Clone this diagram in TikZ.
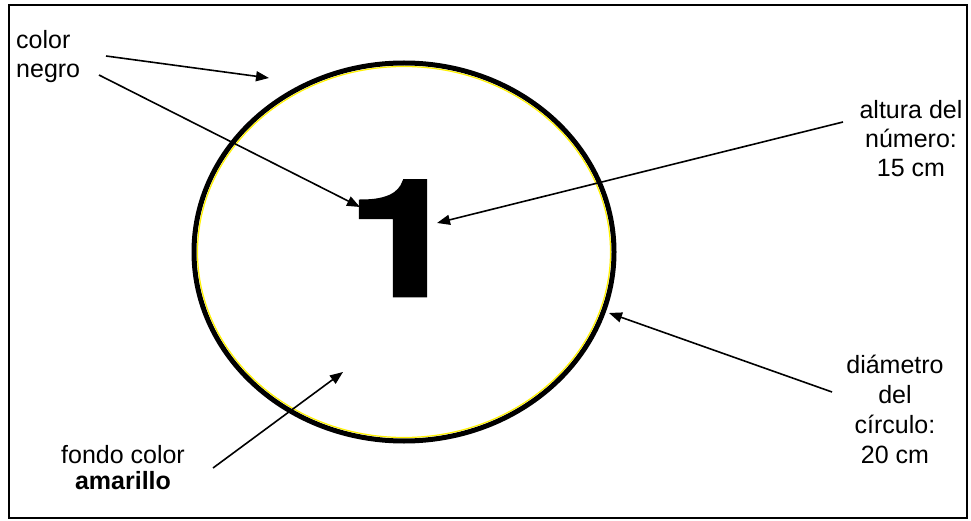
\documentclass[tikz,border=0pt]{standalone}
\usepackage{fontspec}
\setmainfont{Liberation Sans}
\newfontfamily\digitfont[BoldFeatures={FakeBold=3}]{TeX Gyre Heros}
\usetikzlibrary{arrows.meta}

\begin{document}
\begin{tikzpicture}[
  x=1pt, y=-1pt,
  lbl/.style={inner sep=0pt, font=\fontsize{25}{29}\selectfont},
  pointer/.style={-{Triangle[length=13pt,width=10pt]}, line width=1.6pt},
  ring/.style={draw=black, line width=5pt}
]
\useasboundingbox (0,0) rectangle (971,521);

% Frame
\draw[line width=2.5pt] (9,5) rectangle (967,518);

% Disc
\draw[ring, fill=white] (404,252) ellipse [x radius=210pt, y radius=189pt];
\draw[yellow, line width=1.2pt] (404,252) ellipse [x radius=206.5pt, y radius=185.5pt];

% Number
\node[inner sep=0pt, anchor=base, xscale=1.25, font=\digitfont\bfseries\fontsize{160}{160}\selectfont] (one) at (404,295) {1};

% Labels
\node[lbl, align=left, anchor=north west] (negro) at (16,30) {color\\negro};
\node[lbl, align=center, anchor=north] (altura) at (911,100) {altura del\\número:\\15 cm};
\node[lbl, align=center, anchor=north, font=\fontsize{25}{30}\selectfont] (diametro) at (895,355) {diámetro\\del\\círculo:\\20 cm};
\node[lbl, align=center, anchor=north, font=\fontsize{25}{26}\selectfont] (fondo) at (123,445) {fondo color\\\textbf{amarillo}};

% Arrow ends
\coordinate (negroA) at (106,56);
\coordinate (negroB) at (99,75);
\coordinate (rimTop) at (269,78);
\coordinate (flag) at (360,207);
\coordinate (alturaS) at (843,122);
\coordinate (stem) at (437,223);
\coordinate (diametroS) at (832,392);
\coordinate (rimRight) at (609,313);
\coordinate (fondoS) at (213,468);
\coordinate (inside) at (343,372);

% Arrows
\draw[pointer] (negroA) -- (rimTop);
\draw[pointer] (negroB) -- (flag);
\draw[pointer] (alturaS) -- (stem);
\draw[pointer] (diametroS) -- (rimRight);
\draw[pointer] (fondoS) -- (inside);

\end{tikzpicture}
\end{document}
